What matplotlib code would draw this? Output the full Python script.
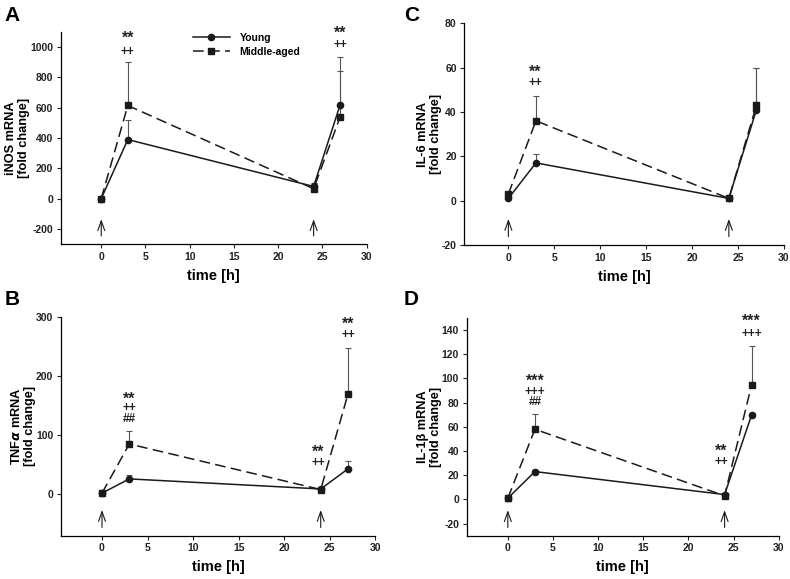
import matplotlib
matplotlib.use("Agg")
import matplotlib.pyplot as plt
import numpy as np
from matplotlib.lines import Line2D

plt.rcParams["font.family"] = ["Liberation Sans", "DejaVu Sans"]
plt.rcParams["font.weight"] = "bold"
plt.rcParams["axes.unicode_minus"] = False

time_h = [0, 3, 24, 27]

# iNOS (A)
inos_young = [0, 390, 80, 620]
inos_young_sem = [0, 130, 20, 315]
inos_mid = [0, 615, 65, 540]
inos_mid_sem = [0, 285, 15, 300]

# TNFa (B)
tnf_young = [2, 26, 9, 43]
tnf_young_sem = [1, 6, 2, 13]
tnf_mid = [2, 85, 8, 170]
tnf_mid_sem = [1, 22, 2, 77]

# IL-6 (C)
il6_young = [1, 17, 1, 41]
il6_young_sem = [0.5, 4, 0.3, 19]
il6_mid = [3, 36, 1, 43]
il6_mid_sem = [1, 11, 0.3, 17]

# IL-1b (D)
il1b_young = [1, 23, 4, 70]
il1b_young_sem = [0.5, 1.5, 1, 0]
il1b_mid = [1, 58, 3, 95]
il1b_mid_sem = [0.5, 13, 1, 32]

# significance marks: (x, y, text)
marks_a = [(3, 1058, "**"), (3, 970, "++"), (27, 1090, "**"), (27, 1012, "++")]
marks_b = [(3, 161, "**"), (3, 146, "++"), (3, 128, "##"),
           (23.7, 71, "**"), (23.7, 53, "++"),
           (27, 288, "**"), (27, 269, "++")]
marks_c = [(2.9, 58, "**"), (2.9, 53, "++")]
marks_d = [(3, 97.5, "***"), (3, 89, "+++"), (3, 80.5, "##"),
           (23.6, 40, "**"), (23.6, 31, "++"),
           (27, 147, "***"), (27, 137, "+++")]

LINE = "#1a1a1a"
ERR = "#555555"

fig = plt.figure(figsize=(7.9, 5.79), dpi=100)


def panel(rect, young, ysem, mid, msem, ylim, yticks, xlim0, ylabel, marks, letter, letter_pos):
    ax = fig.add_axes(rect)
    ax.errorbar(time_h, mid, yerr=[np.zeros(4), msem], fmt="none", ecolor=ERR,
                elinewidth=0.8, capsize=2, capthick=0.8, zorder=1)
    ax.errorbar(time_h, young, yerr=[np.zeros(4), ysem], fmt="none", ecolor=ERR,
                elinewidth=0.8, capsize=2, capthick=0.8, zorder=1)
    ax.plot(time_h, young, "-", color=LINE, lw=1.1, marker="o", ms=4.5, zorder=3)
    ax.plot(time_h, mid, color=LINE, lw=1.1, ls=(0, (7, 3.5)), marker="s", ms=4.2, zorder=2)
    ax.set_xlim(xlim0, 30)
    ax.set_ylim(*ylim)
    ax.set_xticks([0, 5, 10, 15, 20, 25, 30])
    ax.set_yticks(yticks)
    for s in ["top", "right"]:
        ax.spines[s].set_visible(False)
    ax.spines["left"].set_linewidth(0.9)
    ax.spines["bottom"].set_linewidth(0.9)
    ax.tick_params(labelsize=7.5, length=3, width=0.8, pad=2.5, colors="#222222")
    for lab in ax.get_xticklabels() + ax.get_yticklabels():
        lab.set_fontweight("bold")
    ax.set_xlabel("time [h]", fontsize=10.5, fontweight="bold", labelpad=5)
    ax.set_ylabel(ylabel, fontsize=9.2, fontweight="bold", labelpad=0, linespacing=1.1)
    for x, y, t in marks:
        ax.text(x, y, t, ha="center", va="center", fontsize=11.5 if "*" in t else 8.5,
                fontweight="bold", color="#222222")
    tr = ax.get_xaxis_transform()
    for x in [0, 24]:
        ax.annotate("", xy=(x, 0.13), xytext=(x, 0.025), xycoords=tr, textcoords=tr,
                    arrowprops=dict(arrowstyle="->,head_length=0.7,head_width=0.25",
                                    color=LINE, lw=0.8))
    fig.text(letter_pos[0], letter_pos[1], letter, fontsize=15, fontweight="bold",
             ha="left", va="center")
    return ax


ax_a = panel([0.0772, 0.5786, 0.387, 0.366], inos_young, inos_young_sem, inos_mid, inos_mid_sem,
             (-300, 1100), [-200, 0, 200, 400, 600, 800, 1000], -4.55,
             "iNOS mRNA\n[fold change]", marks_a, "A", (0.006, 0.974))
ax_b = panel([0.0772, 0.0748, 0.398, 0.378], tnf_young, tnf_young_sem, tnf_mid, tnf_mid_sem,
             (-70, 300), [0, 100, 200, 300], -4.5,
             "TNF$\\alpha$ mRNA\n[fold change]", marks_b, "B", (0.006, 0.482))
ax_c = panel([0.5877, 0.5769, 0.4047, 0.383], il6_young, il6_young_sem, il6_mid, il6_mid_sem,
             (-20, 80), [-20, 0, 20, 40, 60, 80], -4.8,
             "IL-6 mRNA\n[fold change]", marks_c, "C", (0.511, 0.974))
ax_d = panel([0.5908, 0.0748, 0.395, 0.376], il1b_young, il1b_young_sem, il1b_mid, il1b_mid_sem,
             (-30, 150), [-20, 0, 20, 40, 60, 80, 100, 120, 140], -4.55,
             "IL-1β mRNA\n[fold change]", marks_d, "D", (0.511, 0.482))

handles = [
    Line2D([], [], color=LINE, lw=1.1, marker="o", ms=4.5),
    Line2D([], [], color=LINE, lw=1.1, ls=(0, (7, 3.5)), marker="s", ms=4.2),
]
leg = ax_a.legend(handles, ["Young", "Middle-aged"], loc="upper left", bbox_to_anchor=(0.40, 1.04),
                  frameon=False, handlelength=3.6, handletextpad=0.9,
                  labelspacing=0.35, prop={"weight": "bold", "size": 7.5})

fig.savefig("out.png", dpi=100)
